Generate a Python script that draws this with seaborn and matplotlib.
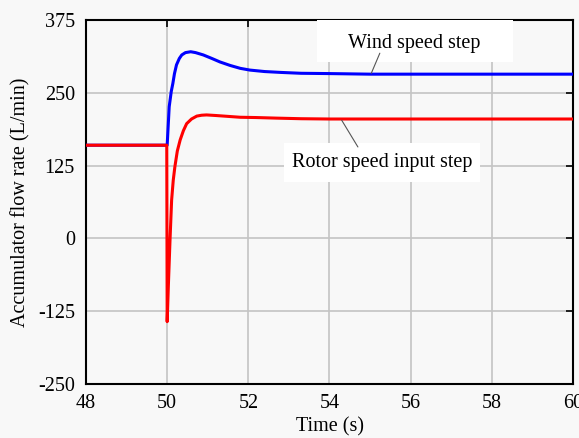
import matplotlib
matplotlib.use("Agg")
import matplotlib.pyplot as plt
from matplotlib.patches import Rectangle
import seaborn as sns
import pandas as pd

# Data
wind_t = [48.0, 50.0, 50.05, 50.1, 50.14, 50.18, 50.23, 50.3, 50.36, 50.45, 50.58, 50.7,
          50.89, 51.1, 51.3, 51.55, 51.8, 52.04, 52.4, 52.8, 53.3, 54.0, 55.0, 56.0, 58.0, 60.0]
wind_v = [160, 160, 226, 252, 266, 283, 298, 309, 315, 319, 320.5, 319,
          315, 309, 303, 297, 292, 289, 286.5, 285, 283.5, 283, 282, 282, 282, 282]

rotor_t = [48.0, 49.99, 50.0, 50.03, 50.07, 50.11, 50.15, 50.19, 50.25, 50.32, 50.4, 50.48,
           50.6, 50.73, 50.85, 50.97, 51.2, 51.5, 51.8, 52.2, 52.7, 53.3, 54.0, 56.0, 58.0, 60.0]
rotor_v = [160, 160, -143, -80, -3, 66, 100, 123, 150, 169, 185, 197,
           205, 210, 211.5, 212, 211, 209.5, 208, 207.5, 206.5, 205.5, 205, 205, 205, 205]

x_ticks = [48, 50, 52, 54, 56, 58, 60]
y_ticks = [-250, -125, 0, 125, 250, 375]

sns.set_theme(style="whitegrid")
plt.rcParams['font.family'] = ['Liberation Serif', 'DejaVu Serif']
plt.rcParams['text.color'] = 'black'

bg = "#f8f8f8"
fig = plt.figure(figsize=(5.79, 4.38), dpi=100, facecolor=bg)
ax = fig.add_axes([86/579, 1 - 384/438, (573-86)/579, (384-20)/438])
ax.set_facecolor(bg)

wind = pd.DataFrame({"t": wind_t, "v": wind_v})
rotor = pd.DataFrame({"t": rotor_t, "v": rotor_v})
sns.lineplot(data=wind, x="t", y="v", sort=False, color="#0000ff", lw=2.2, ax=ax, zorder=3)
sns.lineplot(data=rotor, x="t", y="v", sort=False, color="#ff0000", lw=2.2, ax=ax, zorder=4)

ax.set_xlim(48, 60)
ax.set_ylim(-250, 375)
ax.set_xticks(x_ticks)
ax.set_yticks(y_ticks)
ax.set_xticklabels([str(v) for v in x_ticks])
ax.set_yticklabels([str(v) for v in y_ticks])
ax.grid(True, color="#c4c4c4", lw=1.2)
for s in ax.spines.values():
    s.set_color("black")
    s.set_linewidth(1.5)
ax.tick_params(direction="in", length=5, width=1.2, color="black", top=True, right=True,
               labelsize=14.5, labelcolor="black")
ax.tick_params(axis="y", pad=8)
ax.tick_params(axis="x", pad=7)
ax.set_xlabel("Time (s)", fontsize=14.5, color="black", labelpad=3)
ax.set_ylabel("Accumulator flow rate (L/min)", fontsize=14.5, color="black", labelpad=5)

# annotation boxes
ax.add_patch(Rectangle((0.474, 0.885), 0.403, 0.115, transform=ax.transAxes, fc="white", ec="none", zorder=5))
ax.add_patch(Rectangle((0.407, 0.555), 0.402, 0.107, transform=ax.transAxes, fc="white", ec="none", zorder=5))
ax.text(56.08, 335, "Wind speed step", fontsize=14.5, ha="center", va="center", color="black", zorder=6)
ax.text(55.3, 129.5, "Rotor speed input step", fontsize=14.5, ha="center", va="center", color="black", zorder=6)
ax.annotate("", xy=(55.03, 283.5), xytext=(55.24, 318),
            arrowprops=dict(arrowstyle="-", color="#555555", lw=0.8, shrinkA=0, shrinkB=0), zorder=6)
ax.annotate("", xy=(54.3, 203), xytext=(54.7, 157),
            arrowprops=dict(arrowstyle="-", color="#555555", lw=0.8, shrinkA=0, shrinkB=0), zorder=6)

fig.savefig("out.png", dpi=100, facecolor=bg)
